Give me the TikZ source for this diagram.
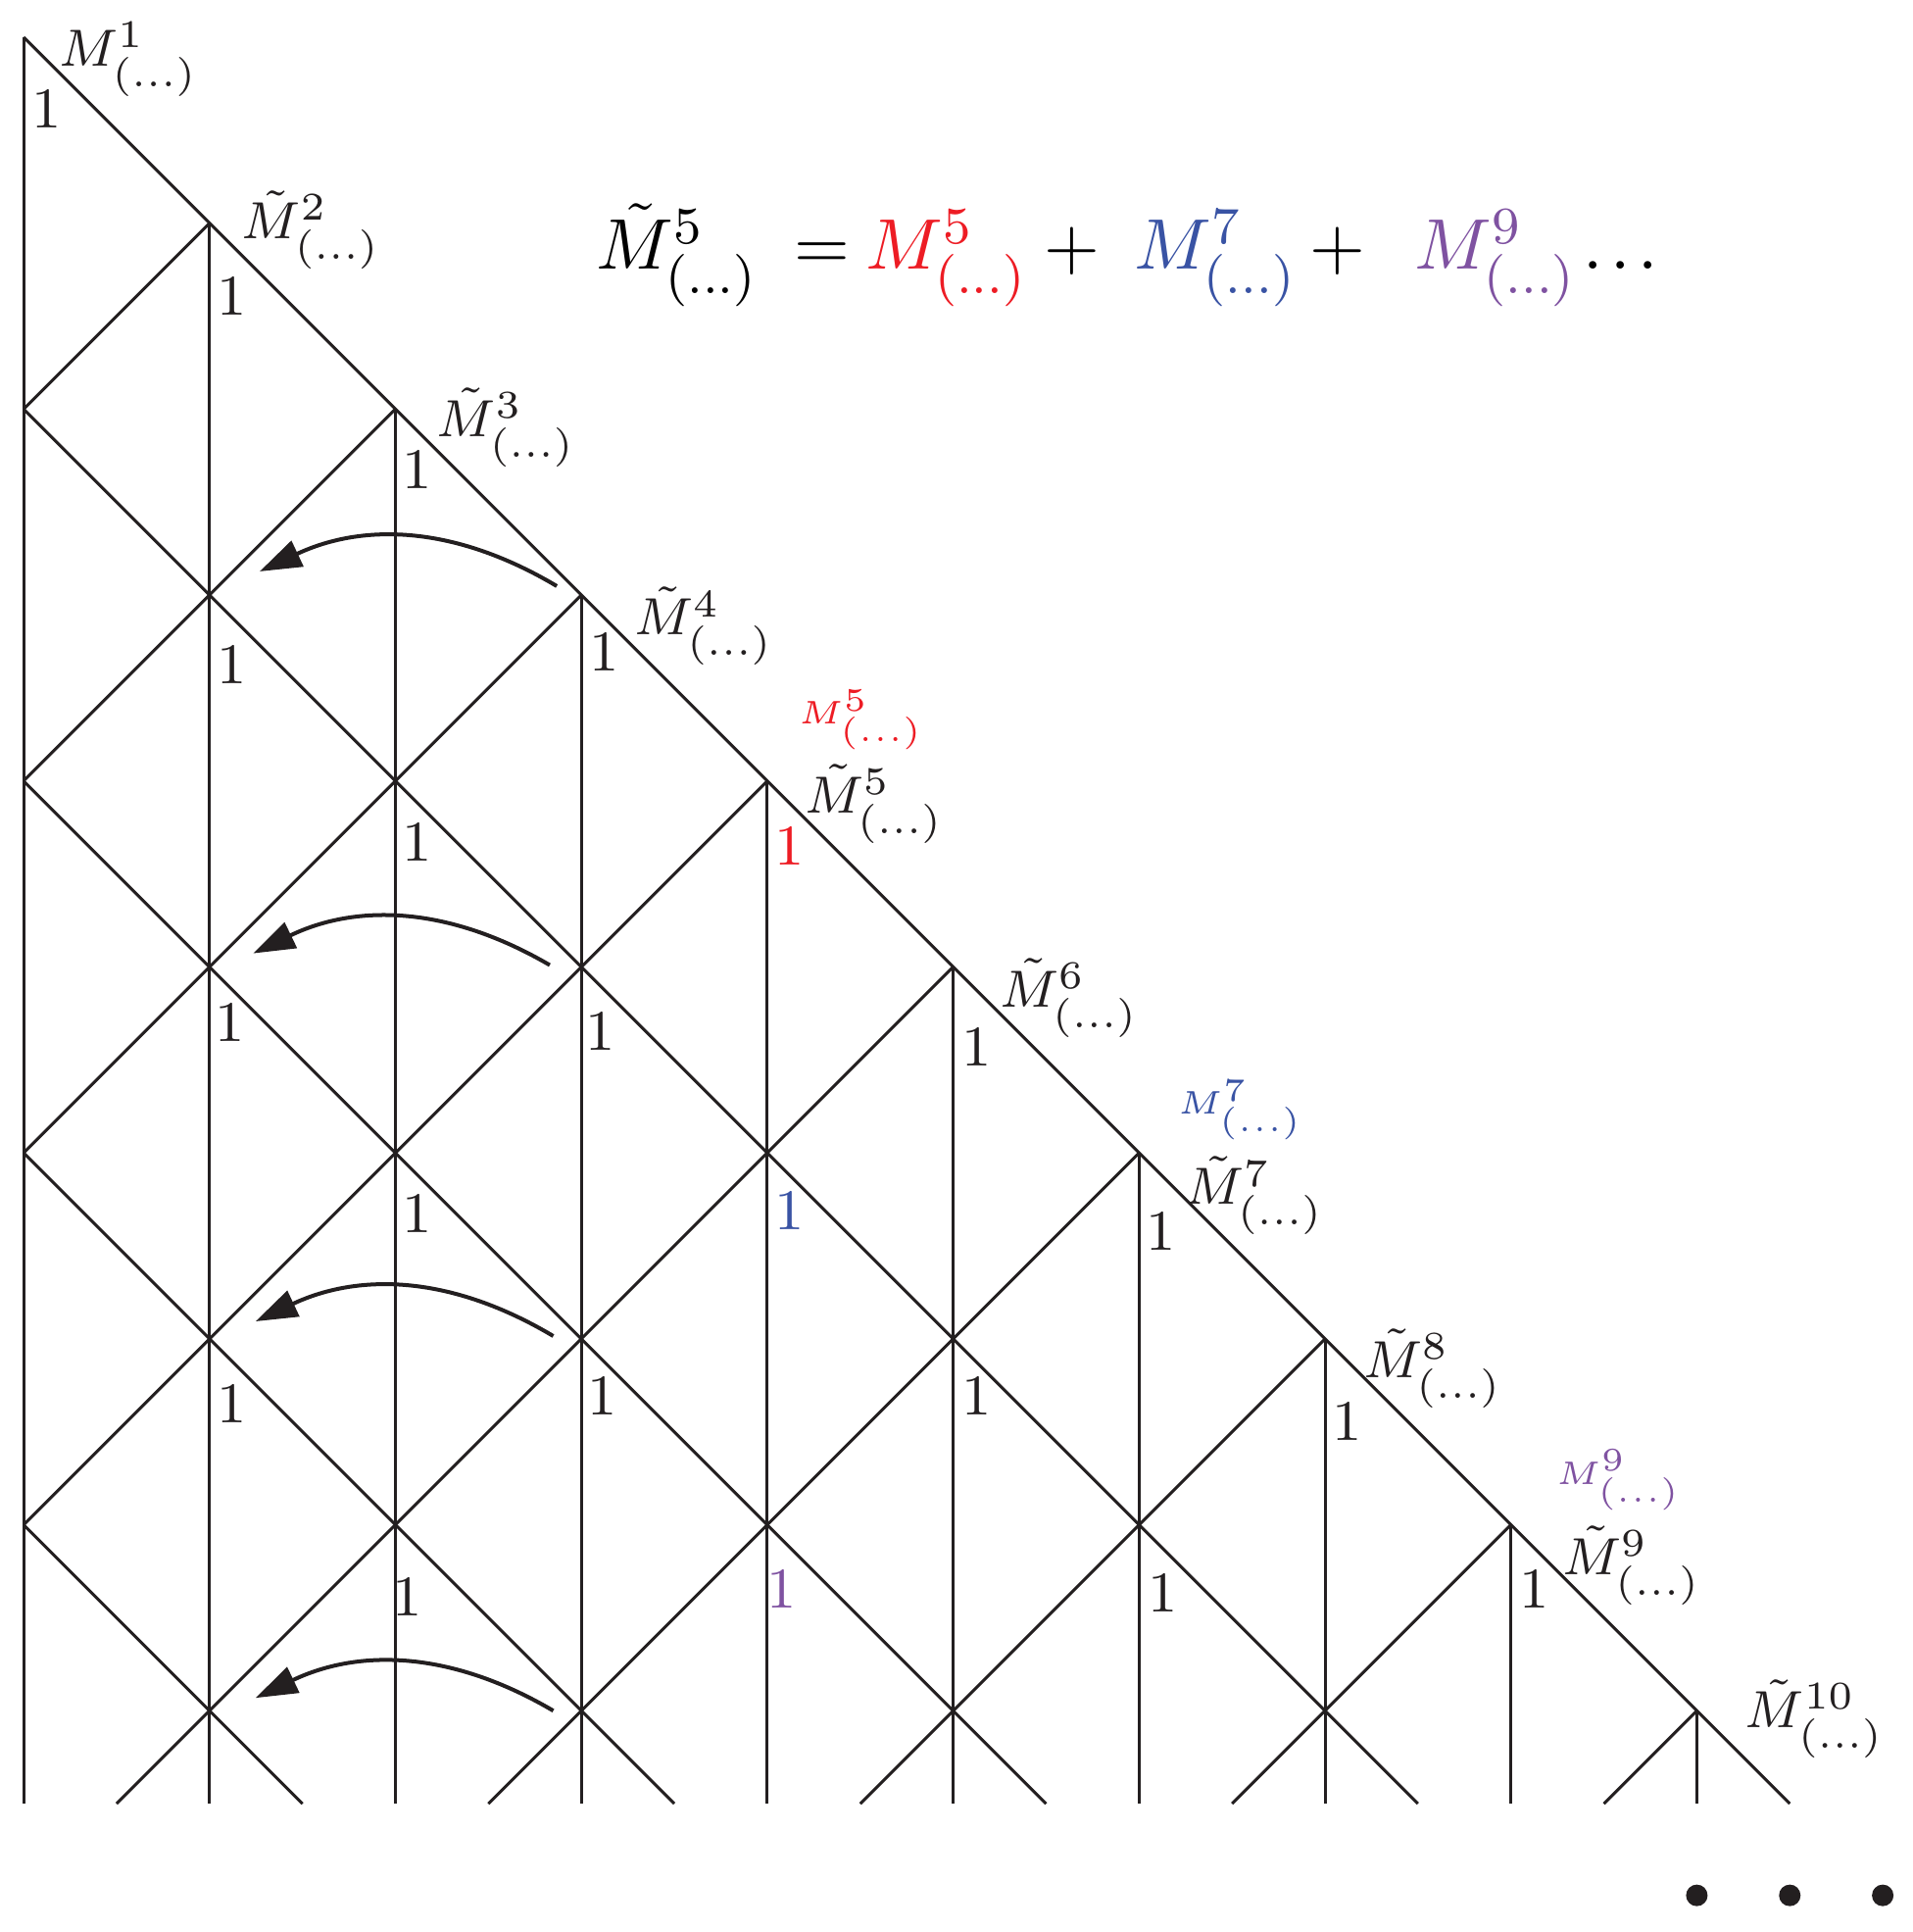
\documentclass[tikz,border=0pt]{standalone}
\usepackage{amsmath}
\usepackage{amssymb}
\usepackage{tikz}
\usetikzlibrary{arrows.meta}

\definecolor{inkblack}{HTML}{231F20}
\definecolor{termred}{HTML}{ED1C24}
\definecolor{termblue}{HTML}{3953A4}
\definecolor{termpurple}{HTML}{7F52A1}

\newcommand{\Mtl}[1]{$\tilde{M}^{#1}_{(\ldots)}$}
\newcommand{\Mpl}[1]{$M^{#1}_{(\ldots)}$}

\tikzset{
  latline/.style={draw=inkblack, line width=0.45pt},
  one/.style={inner sep=0pt, text=inkblack, font=\fontsize{8.8}{10}\selectfont},
  mlabel/.style={inner sep=0pt, text=inkblack, font=\fontsize{8.2}{10}\selectfont},
  minilabel/.style={inner sep=0pt, font=\tiny},
  eqpart/.style={inner sep=0pt, anchor=base west, font=\fontsize{11}{13}\selectfont},
  backarrow/.style={draw=inkblack, line width=0.6pt, -{Triangle[length=0.225cm,width=0.15cm]}},
  bigdot/.style={circle, fill=inkblack, inner sep=0pt, minimum size=0.116cm},
}

\begin{document}
\begin{tikzpicture}
    \useasboundingbox (-0.127,0.2) rectangle (10.163,-10.19);

    % vertices on the slope
    \coordinate (V1) at (0,0);
    \coordinate (V2) at (1,-1);
    \coordinate (V3) at (2,-2);
    \coordinate (V4) at (3,-3);
    \coordinate (V5) at (4,-4);
    \coordinate (V6) at (5,-5);
    \coordinate (V7) at (6,-6);
    \coordinate (V8) at (7,-7);
    \coordinate (V9) at (8,-8);
    \coordinate (V10) at (9,-9);

    % verticals
    \draw[latline] (V1) -- (0,-9.5);
    \draw[latline] (V2) -- (1,-9.5);
    \draw[latline] (V3) -- (2,-9.5);
    \draw[latline] (V4) -- (3,-9.5);
    \draw[latline] (V5) -- (4,-9.5);
    \draw[latline] (V6) -- (5,-9.5);
    \draw[latline] (V7) -- (6,-9.5);
    \draw[latline] (V8) -- (7,-9.5);
    \draw[latline] (V9) -- (8,-9.5);
    \draw[latline] (V10) -- (9,-9.5);

    % falling diagonals
    \draw[latline] (V1) -- (9.5,-9.5);
    \draw[latline] (0,-2) -- (7.5,-9.5);
    \draw[latline] (0,-4) -- (5.5,-9.5);
    \draw[latline] (0,-6) -- (3.5,-9.5);
    \draw[latline] (0,-8) -- (1.5,-9.5);

    % rising diagonals
    \draw[latline] (0,-2) -- (V2);
    \draw[latline] (0,-4) -- (V3);
    \draw[latline] (0,-6) -- (V4);
    \draw[latline] (0,-8) -- (V5);
    \draw[latline] (0.5,-9.5) -- (V6);
    \draw[latline] (2.5,-9.5) -- (V7);
    \draw[latline] (4.5,-9.5) -- (V8);
    \draw[latline] (6.5,-9.5) -- (V9);
    \draw[latline] (8.5,-9.5) -- (V10);

    % labels on the slope
    \node[mlabel] (L1) at (0.565,-0.12) {\Mpl{1}};
    \node[mlabel] (L2) at (1.547,-1.036) {\Mtl{2}};
    \node[mlabel] (L3) at (2.596,-2.098) {\Mtl{3}};
    \node[mlabel] (L4) at (3.659,-3.167) {\Mtl{4}};
    \node[mlabel] (L5) at (4.575,-4.124) {\Mtl{5}};
    \node[mlabel] (L6) at (5.624,-5.166) {\Mtl{6}};
    \node[mlabel] (L7) at (6.62,-6.23) {\Mtl{7}};
    \node[mlabel] (L8) at (7.58,-7.16) {\Mtl{8}};
    \node[mlabel] (L9) at (8.65,-8.22) {\Mtl{9}};
    \node[mlabel] (L10) at (9.635,-9.044) {\Mtl{10}};

    \node[minilabel, text=termred] (S5) at (4.505,-3.672) {\Mpl{5}};
    \node[minilabel, text=termblue] (S7) at (6.545,-5.77) {\Mpl{7}};
    \node[minilabel, text=termpurple] (S9) at (8.58,-7.76) {\Mpl{9}};

    % the ones
    \node[one] (o1) at (0.126,-0.385) {1};
    \node[one] (o2) at (1.122,-1.394) {1};
    \node[one] (o3) at (2.118,-2.324) {1};
    \node[one] (o4) at (3.121,-3.307) {1};
    \node[one, text=termred] (o5) at (4.117,-4.349) {1};
    \node[one] (o6) at (5.126,-5.432) {1};
    \node[one] (o7) at (6.116,-6.421) {1};
    \node[one] (o8) at (7.118,-7.444) {1};
    \node[one] (o9) at (8.127,-8.347) {1};
    \node[one] (o10) at (1.122,-3.373) {1};
    \node[one] (o11) at (2.118,-4.329) {1};
    \node[one] (o12) at (1.109,-5.299) {1};
    \node[one] (o13) at (3.101,-5.345) {1};
    \node[one, text=termblue] (o14) at (4.117,-6.308) {1};
    \node[one] (o15) at (2.118,-6.328) {1};
    \node[one] (o16) at (1.122,-7.351) {1};
    \node[one] (o17) at (3.114,-7.304) {1};
    \node[one] (o18) at (5.126,-7.304) {1};
    \node[one] (o19) at (2.065,-8.386) {1};
    \node[one, text=termpurple] (o20) at (4.077,-8.347) {1};
    \node[one] (o21) at (6.129,-8.367) {1};

    % the sum
    \node[eqpart] (lhs) at (3.074,-1.248) {\Mtl{5}};
    \node[eqpart] (eq) at (4.137,-1.248) {$=$};
    \node[eqpart, text=termred] (t5) at (4.522,-1.248) {\Mpl{5}};
    \node[eqpart] (p1) at (5.485,-1.248) {$+$};
    \node[eqpart, text=termblue] (t7) at (5.97,-1.248) {\Mpl{7}};
    \node[eqpart] (p2) at (6.912,-1.248) {$+$};
    \node[eqpart, text=termpurple] (t9) at (7.477,-1.248) {\Mpl{9}};
    \node[eqpart] (etc) at (8.38,-1.248) {$.\mkern2mu.\mkern2mu.$};

    % arrows back
    \coordinate (a1) at (2.868,-2.952);
    \coordinate (b1) at (1.27,-2.873);
    \coordinate (a2) at (2.83,-4.99);
    \coordinate (b2) at (1.235,-4.927);
    \coordinate (a3) at (2.849,-6.985);
    \coordinate (b3) at (1.248,-6.906);
    \coordinate (a4) at (2.849,-9.0);
    \coordinate (b4) at (1.248,-8.931);
    \draw[backarrow] (a1) to[bend right=28] (b1);
    \draw[backarrow] (a2) to[bend right=28] (b2);
    \draw[backarrow] (a3) to[bend right=28] (b3);
    \draw[backarrow] (a4) to[bend right=28] (b4);

    % more to come
    \node[bigdot] (d1) at (9,-9.993) {};
    \node[bigdot] (d2) at (9.5,-9.993) {};
    \node[bigdot] (d3) at (10,-9.993) {};
\end{tikzpicture}
\end{document}
